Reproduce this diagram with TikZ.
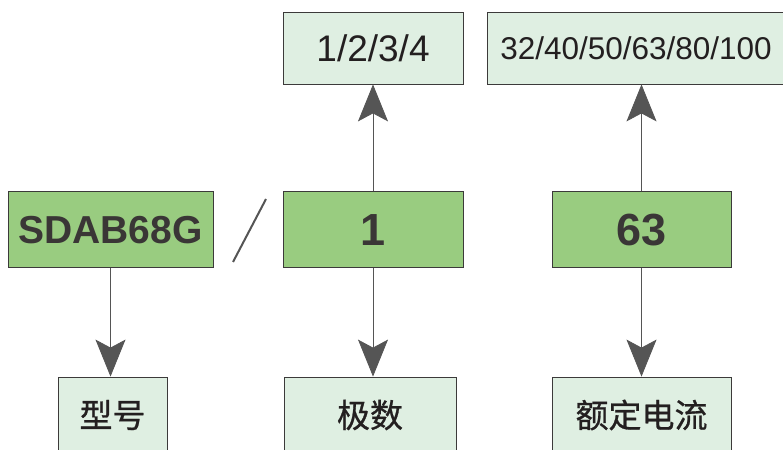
\documentclass[tikz,border=0pt]{standalone}
\usepackage{fontspec}
\setmainfont{Liberation Sans}
\newfontfamily\cjk[FakeBold=0.8]{Noto Sans CJK SC}
\usetikzlibrary{arrows.meta}
\definecolor{codegreen}{RGB}{153,204,128}
\definecolor{palegreen}{RGB}{223,239,226}
\definecolor{boxline}{RGB}{60,58,58}
\definecolor{arrowgray}{RGB}{85,85,85}
\definecolor{textdark}{RGB}{58,54,54}
\definecolor{cjkdark}{RGB}{35,31,32}

\begin{document}
\begin{tikzpicture}[x=1pt, y=1pt,
  code/.style={draw=boxline, line width=1pt, fill=codegreen, minimum height=76pt,
    inner sep=0pt, text=textdark, font=\fontsize{45}{50}\selectfont\bfseries},
  value/.style={draw=boxline, line width=0.8pt, fill=palegreen, minimum height=72pt,
    inner sep=0pt, text=cjkdark},
  meaning/.style={value, minimum height=76pt, font=\cjk\fontsize{33}{38}\selectfont},
  arr/.style={draw=arrowgray, line width=0.8pt,
    -{Stealth[length=37pt, width=30pt, inset=8pt, fill=arrowgray]}}]
\clip (0,0) rectangle (783,449);

\node[code, minimum width=205pt, font=\fontsize{39}{44}\selectfont\bfseries] (SD) at (110.5,219) {SDAB68G};
\node[code, minimum width=180pt] (P) at (373,219) {1};
\node[code, minimum width=179pt] (R) at (641.5,219) {63};

\node[value, minimum width=180pt, font=\fontsize{37}{42}\selectfont] (PV) at (373,401) {1/2/3/4};
\node[value, minimum width=298pt, font=\fontsize{31.5}{36}\selectfont] (RV) at (636,401) {32/40/50/63/80/100};

\node[meaning, minimum width=109pt] (XH) at (112.5,34) {型号};
\node[meaning, minimum width=172pt] (JS) at (370,34) {极数};
\node[meaning, minimum width=179pt] (ED) at (641.5,34) {额定电流};

\draw[arrowgray, line width=2pt] (233,187) -- (266,250);

\path
(SD.south) edge[arr] (SD.south |- XH.north)
(P.south) edge[arr] (P.south |- JS.north)
(R.south) edge[arr] (R.south |- ED.north)
(P.north) edge[arr] (P.north |- PV.south)
(R.north) edge[arr] (R.north |- RV.south)
;
\end{tikzpicture}
\end{document}
